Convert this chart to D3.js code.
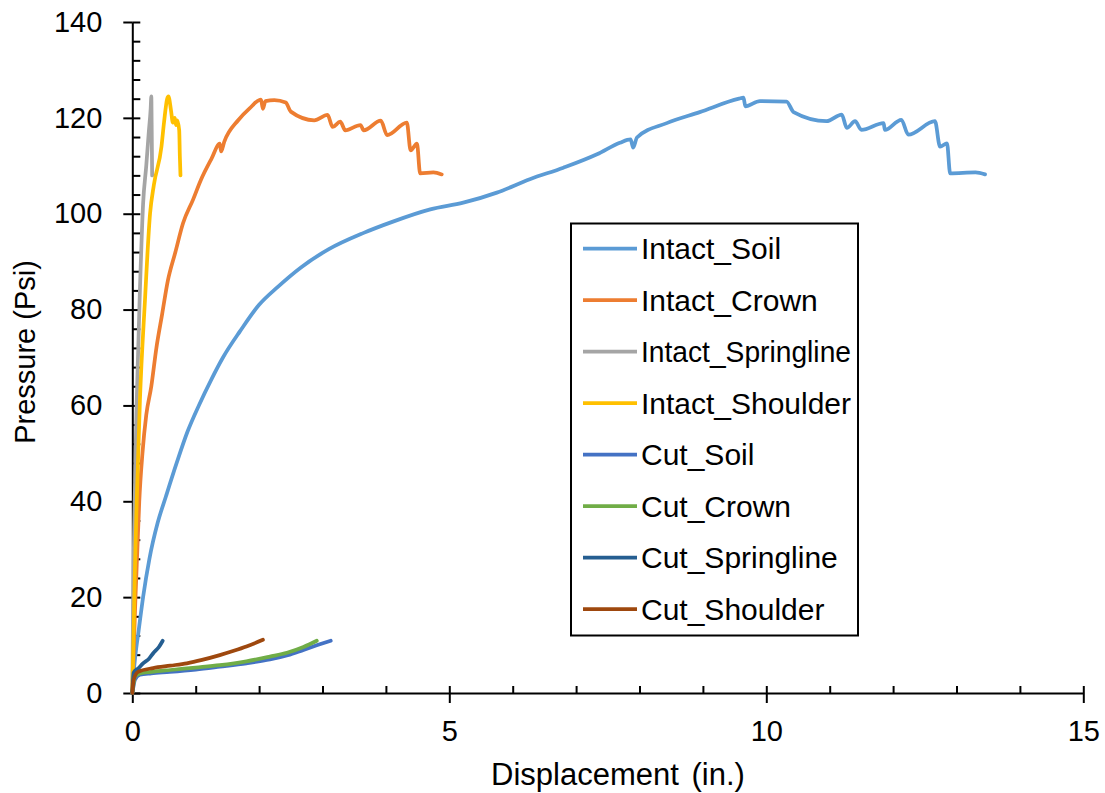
<!DOCTYPE html>
<html>
<head>
<meta charset="utf-8">
<script src="https://cdn.jsdelivr.net/npm/d3@7"></script>
<style>
  body { margin:0; background:#fff; }
  svg text { font-family:"Liberation Sans", Arial, sans-serif; fill:#000; }
</style>
</head>
<body>
<svg id="chart" width="1105" height="793"></svg>
<script>
// [displacement (in.), pressure (psi)]
var intactSoil = [[0,0],[0.02,4],[0.05,8],[0.1,13],[0.17,20],[0.27,28],[0.4,35.5],[0.53,41],[0.7,48],[0.87,54.5],[1.05,60],[1.25,65.5],[1.43,70],[1.7,75.5],[2.0,81],[2.3,84.8],[2.66,88.8],[3.1,92.6],[3.65,96],[4.1,98.3],[4.7,100.9],[5.22,102.3],[5.75,104.4],[6.27,107.2],[6.8,109.6],[7.33,112.4],[7.69,114.8],[7.86,115.5],[7.9,113.8],[7.96,115.9],[8.43,118.9],[8.95,121.2],[9.57,124.0],[9.64,124.2],[9.67,122.4],[9.9,123.5],[10.32,123.4],[10.43,121.2],[10.95,119.3],[11.19,120.7],[11.27,117.9],[11.4,119.3],[11.5,117.5],[11.85,118.9],[11.87,117.5],[12.13,119.6],[12.24,116.5],[12.66,119.3],[12.74,114.0],[12.85,114.7],[12.9,108.4],[13.3,108.6],[13.45,108.2]]
  , intactCrown = [[0,0],[0.02,8],[0.05,20],[0.08,30],[0.11,40],[0.16,50],[0.22,58],[0.3,64],[0.38,72],[0.47,79],[0.56,86],[0.68,92],[0.8,98],[0.96,103],[1.08,107],[1.25,111.5],[1.38,114.6],[1.4,113],[1.45,115],[1.67,119.5],[1.85,122],[2.03,123.8],[2.06,121.9],[2.1,123.5],[2.24,123.7],[2.42,123.2],[2.5,121.3],[2.87,119.5],[3.08,120.6],[3.16,118.1],[3.28,119.2],[3.36,117.4],[3.6,118.5],[3.65,117.4],[3.92,119.4],[4.02,116.4],[4.33,119.0],[4.39,113.2],[4.49,114.6],[4.54,108.4],[4.75,108.6],[4.88,108.2]]
  , intactSpringline = [[0,0],[0.01,15],[0.03,35],[0.07,61],[0.12,84],[0.17,102],[0.22,110],[0.26,117],[0.29,122],[0.3,124.5],[0.305,119],[0.31,112],[0.313,108]]
  , intactShoulder = [[0,0],[0.02,12],[0.04,25],[0.07,40],[0.12,61],[0.2,82],[0.28,100],[0.34,106],[0.46,114],[0.5,119],[0.55,124],[0.57,124.5],[0.61,121.6],[0.64,119],[0.67,120],[0.69,118.5],[0.71,119.5],[0.74,117.4],[0.75,112],[0.76,108]]
  , cutSoil = [[0,0],[0.02,1.5],[0.04,2.7],[0.12,3.8],[0.3,4.1],[0.59,4.4],[1.0,4.9],[1.38,5.5],[1.8,6.2],[2.17,7.0],[2.45,7.9],[2.7,9.0],[2.92,10.0],[3.13,10.9]]
  , cutCrown = [[0,0],[0.02,2],[0.04,3.4],[0.12,4.1],[0.3,4.4],[0.6,4.8],[1.0,5.3],[1.38,5.8],[1.8,6.6],[2.17,7.6],[2.44,8.4],[2.7,9.6],[2.91,10.9]]
  , cutSpringline = [[0,0],[0.01,2.5],[0.02,4.2],[0.1,5.2],[0.17,6.2],[0.26,7.1],[0.33,8.3],[0.42,9.6],[0.48,10.9]]
  , cutShoulder = [[0,0],[0.01,1.5],[0.02,2.7],[0.09,4.4],[0.33,5.2],[0.6,5.7],[0.86,6.2],[1.1,6.9],[1.38,7.9],[1.6,8.8],[1.8,9.7],[2.06,11.1]]

var seriesNames = ['Intact_Soil', 'Intact_Crown', 'Intact_Springline', 'Intact_Shoulder', 'Cut_Soil', 'Cut_Crown', 'Cut_Springline', 'Cut_Shoulder']
  , seriesData = [intactSoil, intactCrown, intactSpringline, intactShoulder, cutSoil, cutCrown, cutSpringline, cutShoulder]
  , seriesColors = ['#5B9BD5', '#ED7D31', '#A5A5A5', '#FFC000', '#4472C4', '#70AD47', '#255E91', '#9E480E']

var xMajor = [0, 5, 10, 15]
  , yMajor = [0, 20, 40, 60, 80, 100, 120, 140]

var svg = d3.select('#chart')

var x = d3.scaleLinear().domain([0, 15]).range([132.3, 1083.3])
var y = d3.scaleLinear().domain([0, 140]).range([693, 22])

// y axis: major ticks cross the line, minor ticks every 4 psi on the inside
svg.append('g')
  .attr('transform', 'translate(' + x(0) + ',0)')
  .call(d3.axisRight(y).tickValues(d3.range(0, 141, 4)).tickSize(8).tickFormat(''))
  .call(function(g) { g.select('.domain').remove() })
  .selectAll('line').attr('stroke', '#000').attr('stroke-width', 2)

svg.append('g')
  .attr('transform', 'translate(' + x(0) + ',0)')
  .call(d3.axisLeft(y).tickValues(yMajor).tickSize(9).tickSizeOuter(0).tickPadding(21))
  .call(function(g) {
    g.select('.domain').attr('stroke', '#000').attr('stroke-width', 2)
    g.selectAll('line').attr('stroke', '#000').attr('stroke-width', 2)
    g.selectAll('text').attr('font-size', 29).attr('font-family', '"Liberation Sans", Arial, sans-serif')
  })

// x axis
svg.append('g')
  .attr('transform', 'translate(0,' + y(0) + ')')
  .call(d3.axisTop(x).tickValues(d3.range(0, 16, 1)).tickSize(7).tickFormat(''))
  .call(function(g) { g.select('.domain').remove() })
  .selectAll('line').attr('stroke', '#000').attr('stroke-width', 2)

svg.append('g')
  .attr('transform', 'translate(0,' + y(0) + ')')
  .call(d3.axisBottom(x).tickValues(xMajor).tickSize(10).tickSizeOuter(0).tickPadding(17))
  .call(function(g) {
    g.select('.domain').attr('stroke', '#000').attr('stroke-width', 2)
    g.selectAll('line').attr('stroke', '#000').attr('stroke-width', 2)
    g.selectAll('text').attr('font-size', 29).attr('font-family', '"Liberation Sans", Arial, sans-serif')
  })

var line = d3.line()
  .curve(d3.curveMonotoneX)
  .x(function(d) { return x(d[0]) })
  .y(function(d) { return y(d[1]) })

svg.append('g').selectAll('path')
    .data(seriesData)
  .enter().append('path')
    .attr('d', line)
    .attr('fill', 'none')
    .attr('stroke', function(d, i) { return seriesColors[i] })
    .attr('stroke-width', 3.75)
    .attr('stroke-linejoin', 'round')
    .attr('stroke-linecap', 'round')

// axis titles
svg.append('text')
  .attr('transform', 'translate(35,352) rotate(-90)')
  .attr('text-anchor', 'middle')
  .attr('font-size', 29)
  .text('Pressure (Psi)')

svg.append('text')
  .attr('x', 618)
  .attr('y', 785)
  .attr('text-anchor', 'middle')
  .attr('font-size', 31)
  .attr('word-spacing', 4)
  .text('Displacement (in.)')

// legend
var legend = svg.append('g')

legend.append('rect')
  .attr('x', 571)
  .attr('y', 223.5)
  .attr('width', 287)
  .attr('height', 412)
  .attr('fill', '#fff')
  .attr('stroke', '#000')
  .attr('stroke-width', 2)

var entry = legend.selectAll('g.entry')
    .data(seriesNames)
  .enter().append('g')
    .attr('class', 'entry')
    .attr('transform', function(d, i) { return 'translate(0,' + (248.5 + i * 51.5) + ')' })

entry.append('line')
  .attr('x1', 583)
  .attr('x2', 637)
  .attr('stroke', function(d, i) { return seriesColors[i] })
  .attr('stroke-width', 3.75)

entry.append('text')
  .attr('x', 641)
  .attr('dy', '0.35em')
  .attr('font-size', 30)
  .text(function(d) { return d })
  .each(function() {
    // keep long labels inside the box
    if (this.getComputedTextLength() > 210) {
      d3.select(this).attr('textLength', 210).attr('lengthAdjust', 'spacingAndGlyphs')
    }
  })
</script>
</body>
</html>
